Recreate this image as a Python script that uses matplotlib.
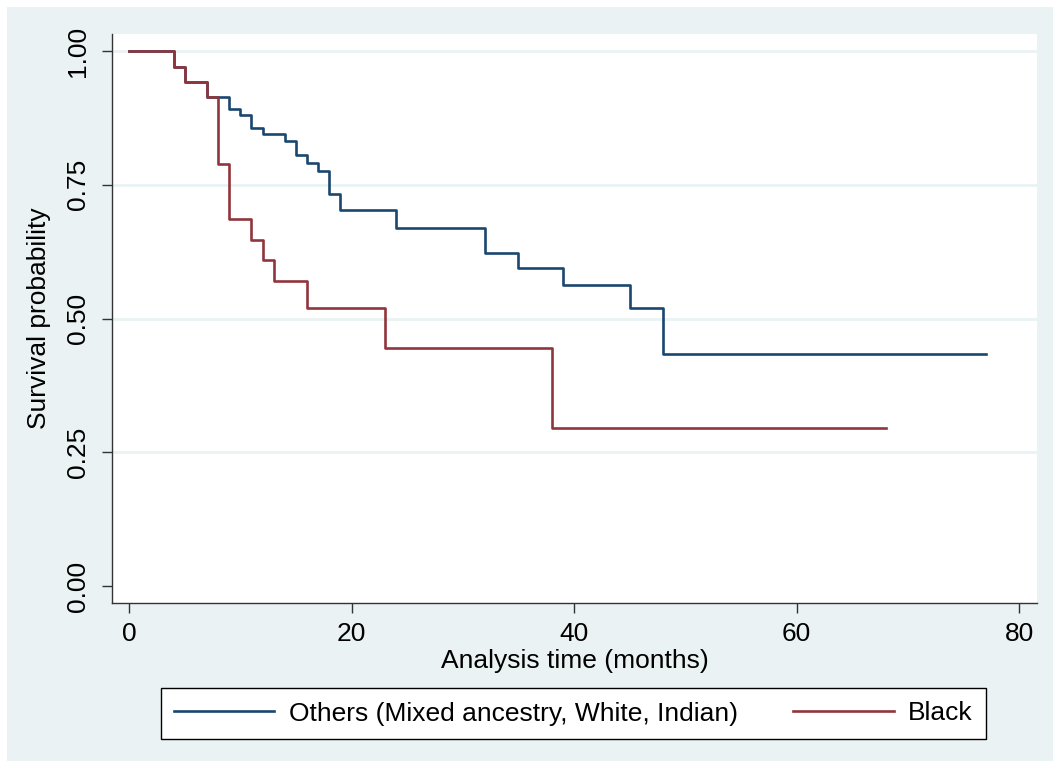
import matplotlib
matplotlib.use("Agg")
import matplotlib.pyplot as plt
from matplotlib.patches import Rectangle
from matplotlib.lines import Line2D

plt.rcParams['font.family'] = ['Liberation Sans', 'DejaVu Sans']

# Kaplan-Meier step data (time in months, survival probability)
others_time = [0, 4, 5, 7, 9, 10, 11, 12, 14, 15, 16, 17, 18, 19, 24, 32, 35, 39, 45, 48, 77]
others_surv = [1.0, 0.971, 0.943, 0.914, 0.892, 0.880, 0.857, 0.845, 0.832, 0.806,
               0.791, 0.776, 0.733, 0.703, 0.670, 0.622, 0.594, 0.563, 0.520, 0.433, 0.433]
black_time = [0, 4, 5, 7, 8, 9, 11, 12, 13, 16, 23, 38, 68]
black_surv = [1.0, 0.971, 0.943, 0.914, 0.788, 0.686, 0.647, 0.609, 0.571, 0.519, 0.444, 0.296, 0.296]

labels = ["Others (Mixed ancestry, White, Indian)", "Black"]
colors = ["#1a476f", "#90353b"]
yticks = [0.0, 0.25, 0.5, 0.75, 1.0]
ytick_labels = ["0.00", "0.25", "0.50", "0.75", "1.00"]
xticks = [0, 20, 40, 60, 80]

W, H = 1053, 769
fig = plt.figure(figsize=(W / 100, H / 100), dpi=100)
fig.patch.set_facecolor("white")
bg = "#eaf2f3"
fig.patches.append(Rectangle((7 / W, (H - 761) / H), (W - 7) / W, (761 - 7) / H,
                             transform=fig.transFigure, facecolor=bg, edgecolor="none", zorder=-5))

left, right, top, bottom = 112, 1037, 34, 603
ax = fig.add_axes([left / W, (H - bottom) / H, (right - left) / W, (bottom - top) / H])
ax.set_zorder(1)
ax.set_facecolor("white")

ax.set_xlim(-1.53, 81.6)
ax.set_ylim(-0.0318, 1.0318)

for y in yticks[1:]:
    ax.axhline(y, color=bg, lw=2, zorder=1)

ax.step(others_time, others_surv, where="post", color=colors[0], lw=1.9, zorder=3)
ax.step(black_time, black_surv, where="post", color=colors[1], lw=1.9, zorder=4)

for s in ["top", "right"]:
    ax.spines[s].set_visible(False)
for s in ["left", "bottom"]:
    ax.spines[s].set_color("#333333")
    ax.spines[s].set_linewidth(1.0)

ax.set_yticks(yticks)
ax.set_yticklabels(ytick_labels, rotation=90, va="center")
ax.set_xticks(xticks)
ax.set_xticklabels([str(x) for x in xticks])
ax.tick_params(axis="both", direction="out", length=7.5, width=1.0, color="#333333",
               labelsize=19, labelcolor="black")
ax.tick_params(axis="y", pad=8)
ax.tick_params(axis="x", pad=6)

ax.set_xlabel("Analysis time (months)", fontsize=19, labelpad=2)
ax.set_ylabel("Survival probability", fontsize=19, labelpad=11)

handles = [Line2D([], [], color=c, lw=1.9) for c in colors]
leg = fig.legend(handles, labels, loc="center", ncol=2,
                 bbox_to_anchor=((159 + 988) / 2 / W, 1 - 713.5 / H),
                 fontsize=19, frameon=True, fancybox=False, edgecolor="black",
                 framealpha=1.0, handlelength=3.8, handletextpad=0.55, columnspacing=2.1,
                 borderpad=0.5, borderaxespad=0)
leg.get_frame().set_linewidth(1.0)
leg.get_frame().set_facecolor("white")
leg.set_zorder(2)

fig.savefig("out.png", dpi=100, facecolor=fig.get_facecolor())
